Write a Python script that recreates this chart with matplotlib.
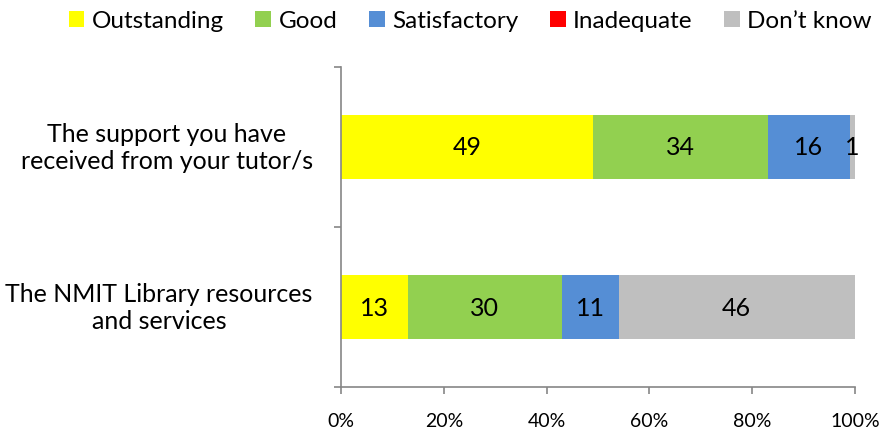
import numpy as np
import matplotlib
matplotlib.use("Agg")
import matplotlib.pyplot as plt
import matplotlib.transforms as mtransforms
from matplotlib.patches import Patch

plt.rcParams['font.family'] = ['Lato', 'DejaVu Sans']

# data (percent), top row first
categories = ["The support you have\nreceived from your tutor/s",
              "The NMIT Library resources\nand services"]
series = ["Outstanding", "Good", "Satisfactory", "Inadequate", "Don\u2019t know"]
outstanding = [49, 13]
good = [34, 30]
satisfactory = [16, 11]
inadequate = [0, 0]
dont_know = [1, 46]
colors = ["#FFFF00", "#92D050", "#558ED5", "#FF0000", "#BFBFBF"]
xticks = [0, 20, 40, 60, 80, 100]
xtick_labels = ["0%", "20%", "40%", "60%", "80%", "100%"]

values = np.array([outstanding, good, satisfactory, inadequate, dont_know], dtype=float)
totals = values.sum(axis=0)
shares = values / totals * 100

fig = plt.figure(figsize=(8.81, 4.35), dpi=100)
ax = fig.add_axes([341 / 881, 1 - 388 / 435, (855 - 341) / 881, 320 / 435])

ypos = np.arange(len(categories))[::-1]  # first category on top
left = np.zeros(len(categories))
for i, name in enumerate(series):
    ax.barh(ypos, shares[i], left=left, height=0.4, color=colors[i],
            edgecolor="none", label=name)
    for y, l, s, v in zip(ypos, left, shares[i], values[i]):
        if v > 0:
            ax.text(l + s / 2, y, f"{v:.0f}", ha="center", va="center",
                    fontsize=18, color="black")
    left += shares[i]

ax.set_xlim(0, 100)
ax.set_ylim(-0.5, len(categories) - 0.5)
ax.set_xticks(xticks)
ax.set_xticklabels(xtick_labels, fontsize=14)
ax.set_yticks(np.arange(-0.5, len(categories), 1.0))
ax.set_yticklabels([])

gray = "#868686"
for side in ["top", "right"]:
    ax.spines[side].set_visible(False)
for side in ["left", "bottom"]:
    ax.spines[side].set_color(gray)
    ax.spines[side].set_linewidth(1.2)
ax.tick_params(axis="x", direction="out", length=5, width=1.2, color=gray, pad=13)
ax.tick_params(axis="y", direction="out", length=5, width=1.2, color=gray)

trans = mtransforms.blended_transform_factory(ax.transAxes, ax.transData)
for y, cat in zip(ypos, categories):
    ax.text(-0.055, y, cat, transform=trans, ha="right", va="center",
            multialignment="center", fontsize=18, linespacing=1.25)

handles = [Patch(facecolor=c, edgecolor="none") for c in colors]
fig.legend(handles, series, loc="center", bbox_to_anchor=(470 / 881, 1 - 22 / 435),
           ncol=5, frameon=False, fontsize=17.5, handlelength=0.65, handleheight=0.65,
           handletextpad=0.3, columnspacing=1.3)

fig.savefig("out.png", dpi=100)
